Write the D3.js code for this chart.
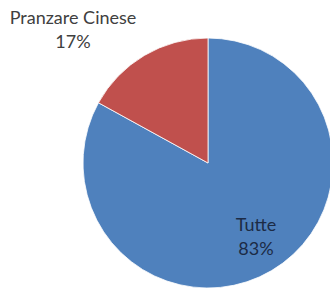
<!DOCTYPE html>
<html><head><meta charset="utf-8">
<script src="https://cdn.jsdelivr.net/npm/d3@7"></script>
<style>html,body{margin:0;padding:0;background:#fff;overflow:hidden}</style>
</head><body>
<script>
const categories = ["Tutte", "Pranzare Cinese"];
const values = [83, 17];
const colors = ["#4F81BD", "#C0504D"];

const W = 330, H = 293;
const svg = d3.select("body").append("svg").attr("width", W).attr("height", H);
const cx = 208, cy = 163, R = 125;
const g = svg.append("g").attr("transform", `translate(${cx},${cy})`);

const pie = d3.pie().sort(null).value(d => d.v)
  .startAngle(0).endAngle(2 * Math.PI);
const data = categories.map((c, i) => ({c, v: values[i], col: colors[i]}));
const arcs = pie(data);
const arc = d3.arc().innerRadius(0).outerRadius(R);
g.selectAll("path").data(arcs).enter().append("path")
  .attr("d", arc).attr("fill", d => d.data.col)
  .attr("stroke", "#fff").attr("stroke-width", 0.8);

const total = d3.sum(values);
const fmt = v => Math.round(v / total * 100) + "%";
const font = "Lato, 'Open Sans', sans-serif";
// label for Tutte inside
const lab = [
  {x: 256, y: 231, c: "#1c2b45", i: 0},
  {x: 73, y: 24, c: "#404040", i: 1}
];
lab.forEach(l => {
  const t = svg.append("text").attr("text-anchor", "middle")
    .attr("font-family", font).attr("font-size", 18).attr("fill", l.c);
  t.append("tspan").attr("x", l.x).attr("y", l.y).text(categories[l.i]);
  t.append("tspan").attr("x", l.x).attr("y", l.y + 24).text(fmt(values[l.i]));
});
</script>
</body></html>
